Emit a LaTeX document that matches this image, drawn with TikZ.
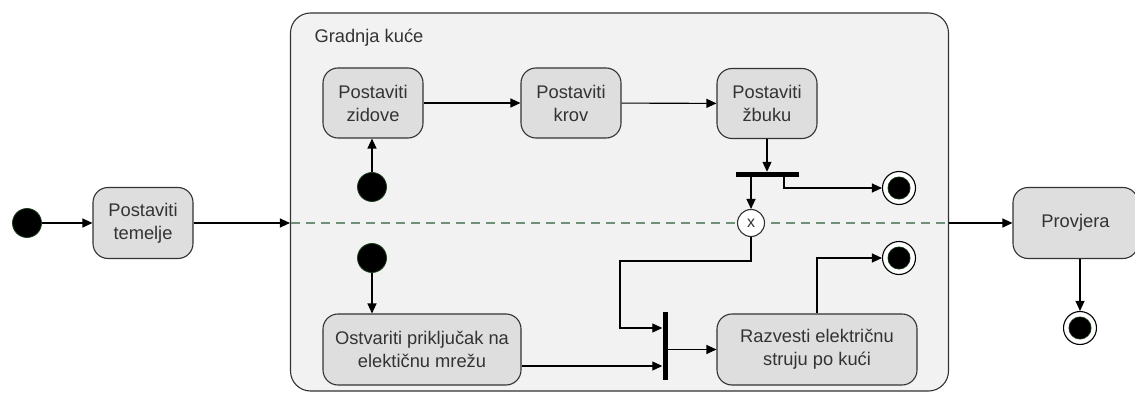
\documentclass[tikz,border=0pt]{standalone}
\usepackage{fontspec}
\setmainfont{Liberation Sans}
\usetikzlibrary{arrows.meta}
\definecolor{edge}{HTML}{333333}
\definecolor{actfill}{HTML}{DEDEDE}
\definecolor{regionfill}{HTML}{F2F2F2}
\definecolor{startedge}{HTML}{1E3D1E}
\definecolor{sepgreen}{HTML}{6F9078}
\definecolor{txt}{HTML}{333333}
\begin{document}
\begin{tikzpicture}[x=1pt,y=-1pt,
  font=\fontsize{18.3}{23}\selectfont,
  act/.style={draw=edge, line width=1.1pt, fill=actfill, rounded corners=15pt,
    align=center, text=txt, inner sep=0pt, minimum height=71pt},
  region/.style={draw=edge, line width=1.1pt, fill=regionfill, rounded corners=20pt,
    inner sep=0pt},
  startnode/.style={circle, fill=black, draw=startedge, line width=0.8pt,
    minimum size=29pt, inner sep=0pt},
  endnode/.style={circle, fill=white, draw=black, line width=1.1pt,
    minimum size=33pt, inner sep=0pt,
    path picture={\fill[startedge] (path picture bounding box.center) circle (11.5pt);
                  \fill[black] (path picture bounding box.center) circle (10.7pt);}},
  syncbar/.style={fill=black, inner sep=0pt},
  decision/.style={circle, draw=edge, line width=1.1pt, fill=white,
    minimum size=27pt, inner sep=0pt, text=txt, font=\fontsize{16}{16}\selectfont},
  flow/.style={draw=black, line width=1.1pt, -{Triangle[length=10pt,width=9pt]}},
  sepline/.style={draw=sepgreen, line width=1.6pt, dash pattern=on 9pt off 6pt}
]
\useasboundingbox (0,0) rectangle (1135,393);

% composite activity
\node[region, minimum width=658pt, minimum height=378pt] (house) at (619.5,202) {};
\node[anchor=base west, text=txt] (title) at (311,43) {Gradnja kuće};

% separator of the two concurrent regions
\coordinate (sepL) at (291,223);
\coordinate (sepR) at (949,223);
\draw[sepline] (sepL) -- (sepR);

% actions outside
\node[startnode] (i0) at (27,223) {};
\node[act, minimum width=100pt] (temelje) at (143,223) {Postaviti\\temelje};
\node[act, minimum width=125pt] (provjera) at (1075.5,223) {Provjera};
\node[endnode] (f3) at (1080,328) {};

% upper region
\node[act, minimum width=100pt, minimum height=70pt] (zidove) at (373,103) {Postaviti\\zidove};
\node[act, minimum width=100pt, minimum height=70pt] (krov) at (571,103) {Postaviti\\krov};
\node[act, minimum width=100pt, minimum height=70pt] (zbuku) at (767,103.5) {Postaviti\\žbuku};
\node[startnode] (i1) at (372,187) {};
\node[syncbar, minimum width=63pt, minimum height=5pt] (fork) at (767.5,174.5) {};
\node[endnode] (f1) at (899,188) {};
\node[decision] (x) at (751,223) {x};

% lower region
\node[startnode] (i2) at (372,258) {};
\node[act, minimum width=198pt] (ostvariti) at (422,349.5) {Ostvariti priključak na\\elektičnu mrežu};
\node[act, minimum width=200pt] (razvesti) at (817,349.5) {Razvesti električnu\\struju po kući};
\node[syncbar, minimum width=5pt, minimum height=68pt] (join) at (665,346) {};
\node[endnode] (f2) at (899,258) {};
\coordinate (bendA) at (751,261);
\coordinate (bendB) at (620,261);

% flows
\draw[flow] (i0) -- (temelje);
\draw[flow] (temelje) -- (temelje -| house.west);
\draw[flow] (house.east |- provjera.west) -- (provjera.west);
\draw[flow] ([xshift=4.5pt]provjera.south) -- (f3.north);

\draw[flow] (i1) -- (i1 |- zidove.south);
\draw[flow] (zidove) -- (krov);
\draw[flow] (krov) -- (zbuku);
\draw[flow] (zbuku.south) -- (zbuku.south |- fork.north);
\draw[flow] (x.north |- fork.south) -- (x.north);
\draw[flow] ([xshift=16.5pt]fork.south) |- (f1.west);

\draw[flow] (i2) -- (i2 |- ostvariti.north);
\draw[flow] (x.south) -- (bendA) -- (bendB) |- ([yshift=18pt]join.west);
\draw[flow] ([yshift=-16.5pt]ostvariti.east) -- ([yshift=-16.5pt]ostvariti.east -| join.west);
\draw[flow] (join.east |- razvesti.west) -- (razvesti.west);
\draw[flow] (razvesti.north) |- (f2.west);
\end{tikzpicture}
\end{document}
